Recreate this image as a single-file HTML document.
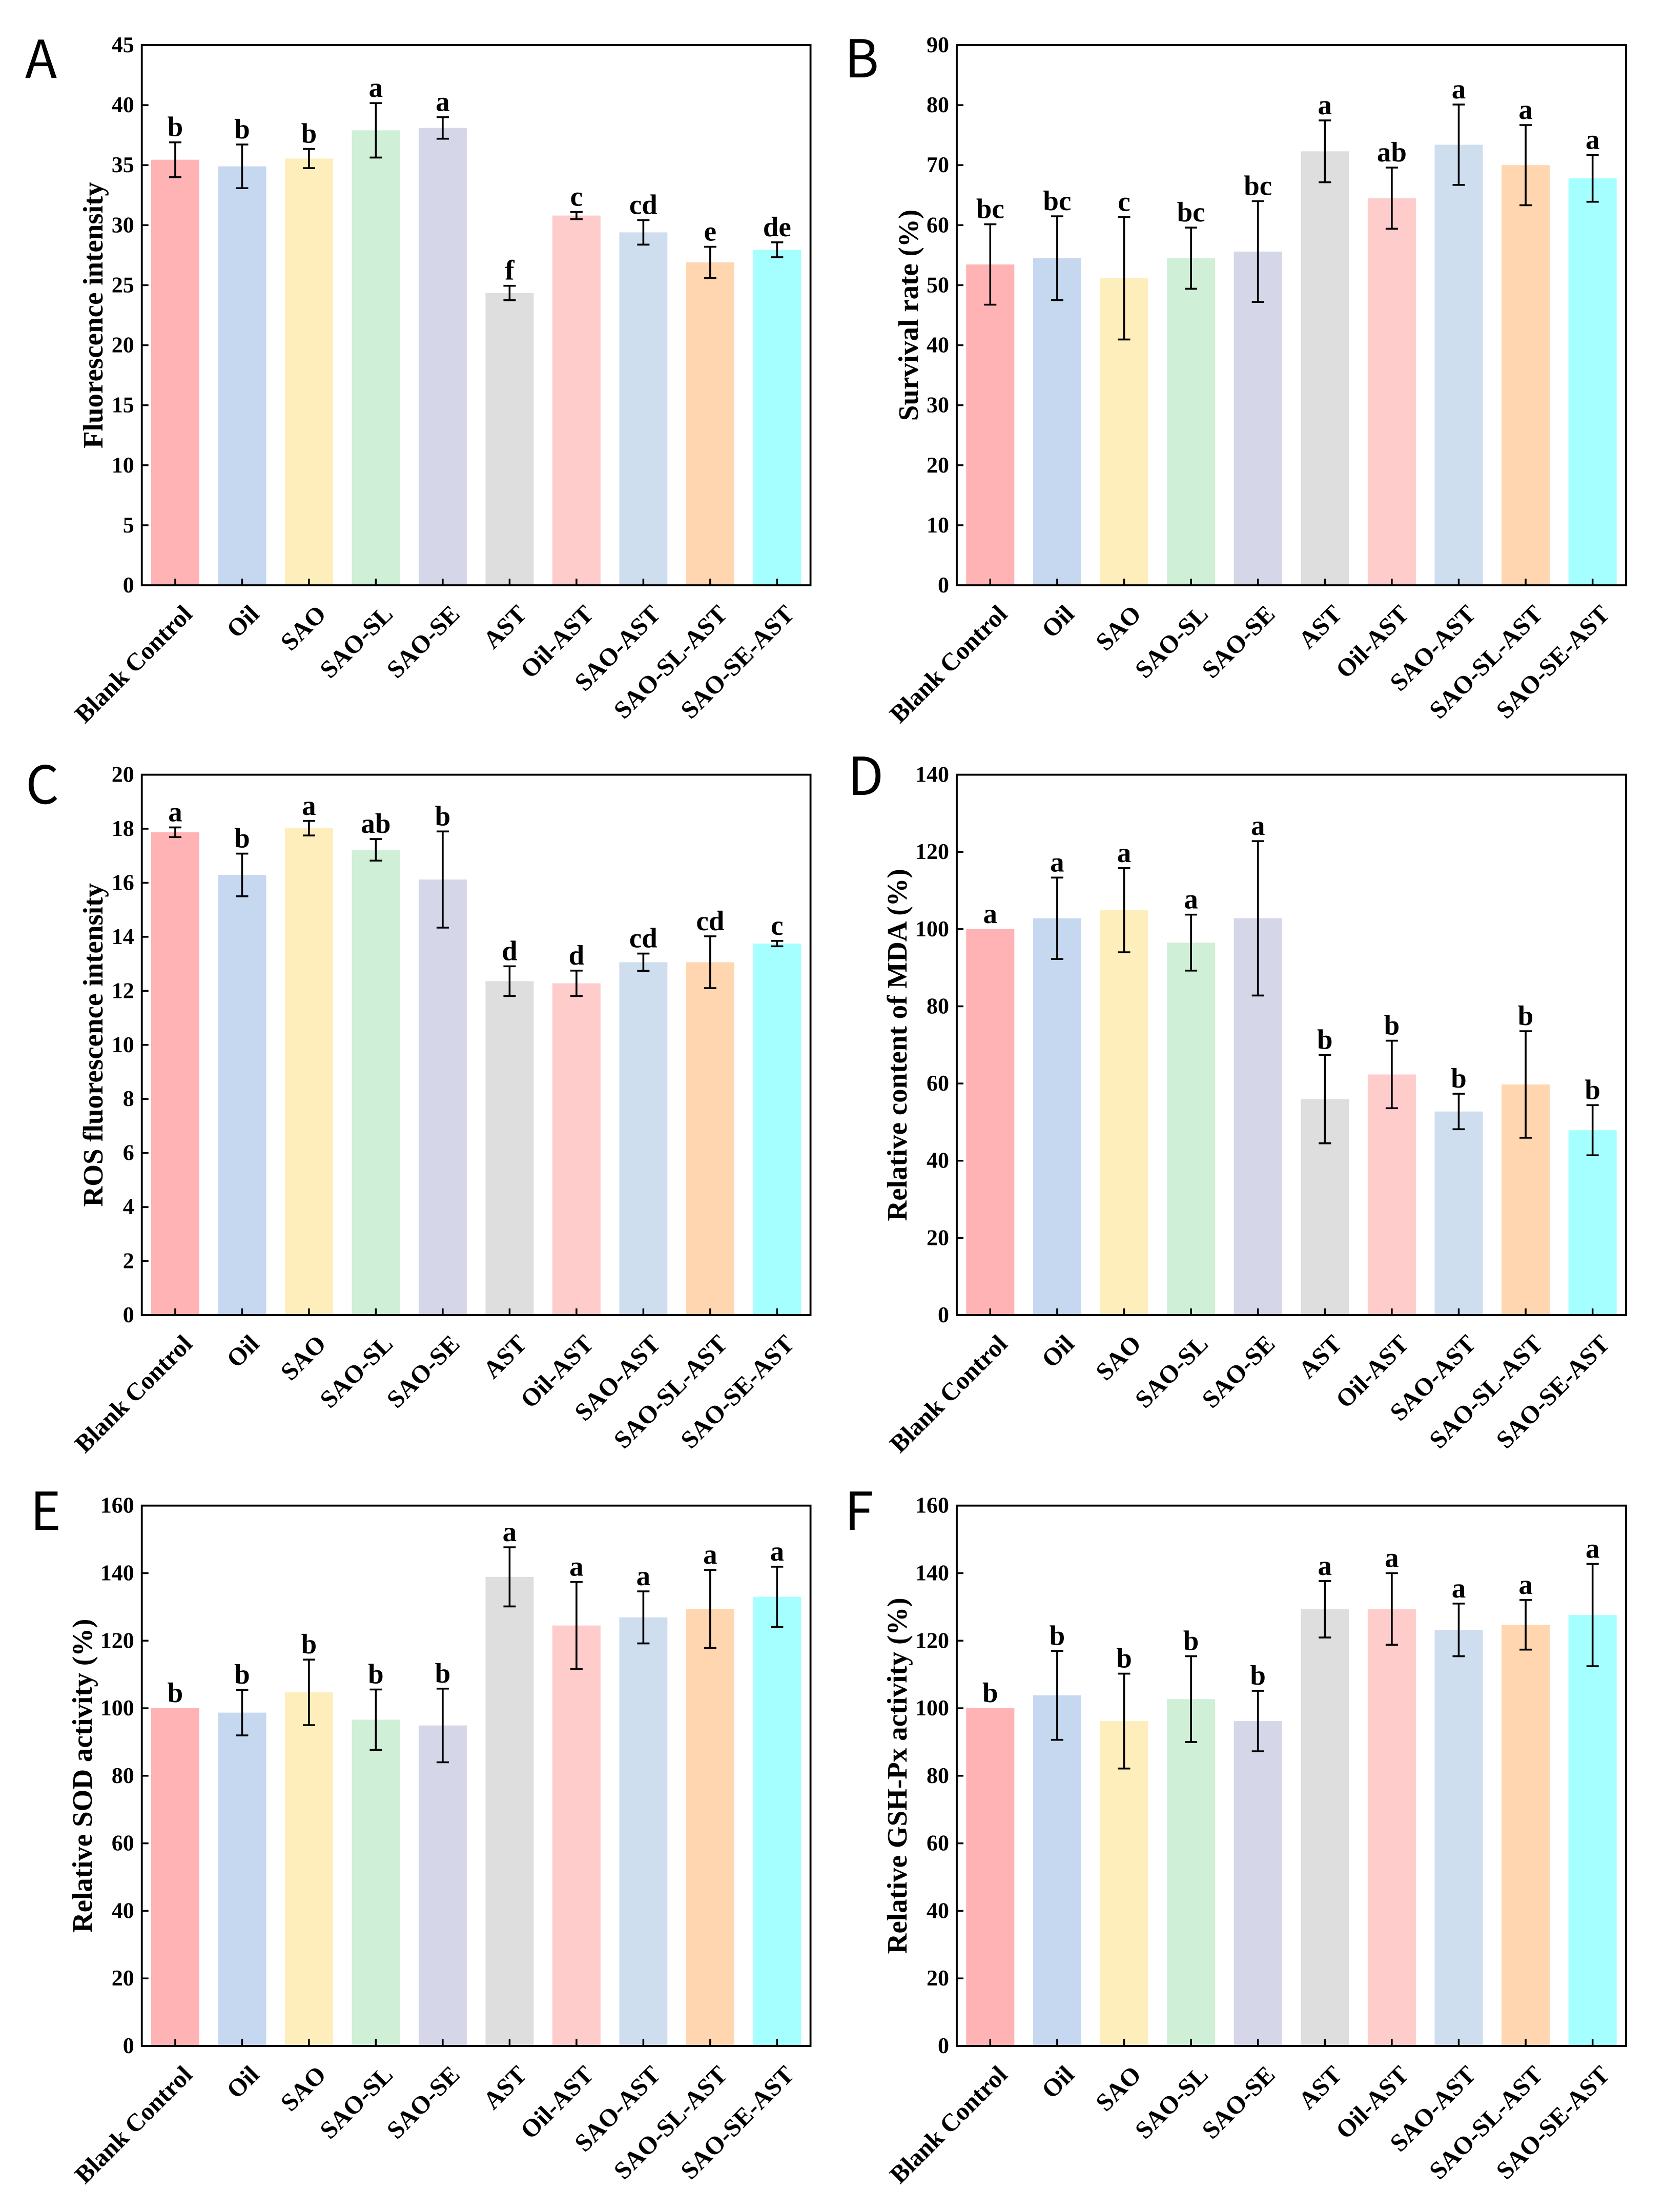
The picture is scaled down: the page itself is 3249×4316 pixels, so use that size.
<!DOCTYPE html>
<html lang="en">
<head>
<meta charset="utf-8">
<title>Bar chart panels A-F</title>
<style>
html,body{margin:0;padding:0;background:#fff;}
svg{display:block;}
text{font-family:"Liberation Serif","Noto Serif CJK SC",serif;font-weight:bold;fill:#000;text-rendering:geometricPrecision;}
.panel-letter{font-family:"Noto Sans CJK SC","Liberation Sans",sans-serif;font-weight:400;font-size:102px;}
</style>
</head>
<body>
<svg id="figure" xmlns="http://www.w3.org/2000/svg" width="3249" height="4316" viewBox="0 0 3249 4316">
  <rect x="0" y="0" width="3249" height="4316" fill="#ffffff"/>
  <text class="panel-letter" x="49" y="152">A</text>
  <text class="panel-letter" x="1648" y="151">B</text>
  <text class="panel-letter" x="50" y="1568">C</text>
  <text class="panel-letter" x="1654" y="1551">D</text>
  <text class="panel-letter" x="59" y="2985">E</text>
  <text class="panel-letter" x="1648" y="2985">F</text>
  <g id="panel-a"></g>
  <g id="panel-b"></g>
  <g id="panel-c"></g>
  <g id="panel-d"></g>
  <g id="panel-e"></g>
  <g id="panel-f"></g>
</svg>
<script>
const categories = ['Blank Control','Oil','SAO','SAO-SL','SAO-SE','AST','Oil-AST','SAO-AST','SAO-SL-AST','SAO-SE-AST'];
const barColors = ['#FFB3B5','#C6D7F0','#FEEEBC','#CFEFD7','#D5D6E8','#DEDEDE','#FFCCCC','#CEDEEE','#FFD6AF','#A6FFFF'];

const ticksA = [0,5,10,15,20,25,30,35,40,45];
const valuesA = [35.45,34.9,35.55,37.9,38.1,24.35,30.8,29.4,26.9,27.95];
const errorsA = [1.45,1.82,0.8,2.27,0.9,0.6,0.3,1.02,1.3,0.62];
const lettersA = ['b','b','b','a','a','f','c','cd','e','de'];

const ticksB = [0,10,20,30,40,50,60,70,80,90];
const valuesB = [53.45,54.5,51.15,54.5,55.6,72.3,64.5,73.4,70,67.8];
const errorsB = [6.7,6.98,10.2,5.1,8.4,5.15,5.1,6.7,6.68,3.9];
const lettersB = ['bc','bc','c','bc','bc','a','ab','a','a','a'];

const ticksC = [0,2,4,6,8,10,12,14,16,18,20];
const valuesC = [17.87,16.29,18.02,17.22,16.12,12.36,12.28,13.06,13.06,13.75];
const errorsC = [0.18,0.79,0.27,0.4,1.78,0.55,0.47,0.32,0.96,0.1];
const lettersC = ['a','b','a','ab','b','d','d','cd','cd','c'];

const ticksD = [0,20,40,60,80,100,120,140];
const valuesD = [100,102.8,104.9,96.5,102.8,55.95,62.35,52.75,59.75,47.9];
const errorsD = [0,10.55,10.9,7.25,20,11.45,8.75,4.6,13.8,6.5];
const lettersD = ['a','a','a','a','a','b','b','b','b','b'];

const ticksE = [0,20,40,60,80,100,120,140,160];
const valuesE = [100,98.7,104.7,96.6,94.9,138.9,124.5,126.9,129.4,133];
const errorsE = [0,6.75,9.7,8.95,10.9,8.75,12.9,7.7,11.55,8.9];
const lettersE = ['b','b','b','b','b','a','a','a','a','a'];

const ticksF = [0,20,40,60,80,100,120,140,160];
const valuesF = [100,103.8,96.2,102.7,96.2,129.3,129.4,123.2,124.7,127.6];
const errorsF = [0,13.15,14.05,12.7,8.95,8.35,10.6,7.8,7.35,15.15];
const lettersF = ['b','b','b','b','b','a','a','a','a','a'];

const SVG_NS = 'http://www.w3.org/2000/svg';

function make(parent, tag, attrs, content) {
  const el = document.createElementNS(SVG_NS, tag);
  for (const key in attrs) el.setAttribute(key, attrs[key]);
  if (content !== undefined) el.textContent = content;
  parent.appendChild(el);
  return el;
}

function slug(s) {
  return s.toLowerCase().replace(/[^a-z0-9]+/g, '-');
}

function drawPanel(p) {
  const root = document.getElementById(p.id);
  const plotWidth = p.right - p.left;
  const band = plotWidth / categories.length;
  const barWidth = band * 0.72;
  const maxY = p.ticks[p.ticks.length - 1];
  const xScale = function (i) { return p.left + (i + 0.5) * band; };
  const yScale = function (v) { return p.bottom - (v / maxY) * (p.bottom - p.top); };

  categories.forEach(function (name, i) {
    const bar = make(root, 'rect', {
      x: xScale(i) - barWidth / 2,
      y: yScale(p.values[i]),
      width: barWidth,
      height: p.bottom - yScale(p.values[i]),
      fill: barColors[i]
    });
    
    
  });

  categories.forEach(function (name, i) {
    const cx = xScale(i);
    const hi = yScale(p.values[i] + p.errors[i]);
    const lo = yScale(p.values[i] - p.errors[i]);
    if (p.errors[i] > 0) {
      const eb = make(root, 'path', {
        d: 'M' + cx + ' ' + hi + 'V' + lo + 'M' + (cx - 12) + ' ' + hi + 'H' + (cx + 12) + 'M' + (cx - 12) + ' ' + lo + 'H' + (cx + 12),
        fill: 'none', stroke: '#000', 'stroke-width': 3.6
      });
      
      
    }
    const sig = make(root, 'text', {
      x: cx, y: hi - 12, 'text-anchor': 'middle', 'font-size': 55
    }, p.letters[i]);
    
    
  });

  p.ticks.forEach(function (t) {
    const yy = yScale(t);
    if (t !== 0 && t !== maxY) {
      const mark = make(root, 'line', {
        x1: p.left, x2: p.left + 13, y1: yy, y2: yy, stroke: '#000', 'stroke-width': 3.5
      });
      
      
    }
    const lab = make(root, 'text', {
      x: p.left - 15, y: yy + 14, 'text-anchor': 'end', 'font-size': 44
    }, String(t));
    
    
  });

  categories.forEach(function (name, i) {
    const cx = xScale(i);
    const mark = make(root, 'line', {
      x1: cx, x2: cx, y1: p.bottom, y2: p.bottom - 13, stroke: '#000', 'stroke-width': 3.5
    });
    
    
    const ex = cx + 36;
    const ey = p.bottom + 59;
    const lab = make(root, 'text', {
      x: ex, y: ey, 'text-anchor': 'end', 'font-size': 49,
      transform: 'rotate(-45 ' + ex + ' ' + ey + ')'
    }, name);
    
    
  });

  const frame = make(root, 'rect', {
    x: p.left, y: p.top, width: plotWidth, height: p.bottom - p.top,
    fill: 'none', stroke: '#000', 'stroke-width': 3.8
  });
  
  

  const midY = (p.top + p.bottom) / 2;
  const title = make(root, 'text', {
    x: p.titleX, y: midY + p.titleShift, 'text-anchor': 'middle', 'font-size': 55,
    transform: 'rotate(-90 ' + p.titleX + ' ' + (midY + p.titleShift) + ')'
  }, p.title);
  
  
}

drawPanel({ id:'panel-a', left:276.7, right:1581.6, top:88, bottom:1142, titleX:200, titleShift:0, title:'Fluorescence intensity', ticks:ticksA, values:valuesA, errors:errorsA, letters:lettersA });
drawPanel({ id:'panel-b', left:1867, right:3173, top:88, bottom:1142, titleX:1791, titleShift:0, title:'Survival rate (%)', ticks:ticksB, values:valuesB, errors:errorsB, letters:lettersB });
drawPanel({ id:'panel-c', left:276.7, right:1581.6, top:1511.6, bottom:2566, titleX:200, titleShift:0, title:'ROS fluorescence intensity', ticks:ticksC, values:valuesC, errors:errorsC, letters:lettersC });
drawPanel({ id:'panel-d', left:1867, right:3173, top:1511.6, bottom:2566, titleX:1769, titleShift:0, title:'Relative content of MDA (%)', ticks:ticksD, values:valuesD, errors:errorsD, letters:lettersD });
drawPanel({ id:'panel-e', left:276.7, right:1581.6, top:2937.7, bottom:3992, titleX:179, titleShift:0, title:'Relative SOD activity (%)', ticks:ticksE, values:valuesE, errors:errorsE, letters:lettersE });
drawPanel({ id:'panel-f', left:1867, right:3173, top:2937.7, bottom:3992, titleX:1769, titleShift:0, title:'Relative GSH-Px activity (%)', ticks:ticksF, values:valuesF, errors:errorsF, letters:lettersF });
</script>
</body>
</html>
